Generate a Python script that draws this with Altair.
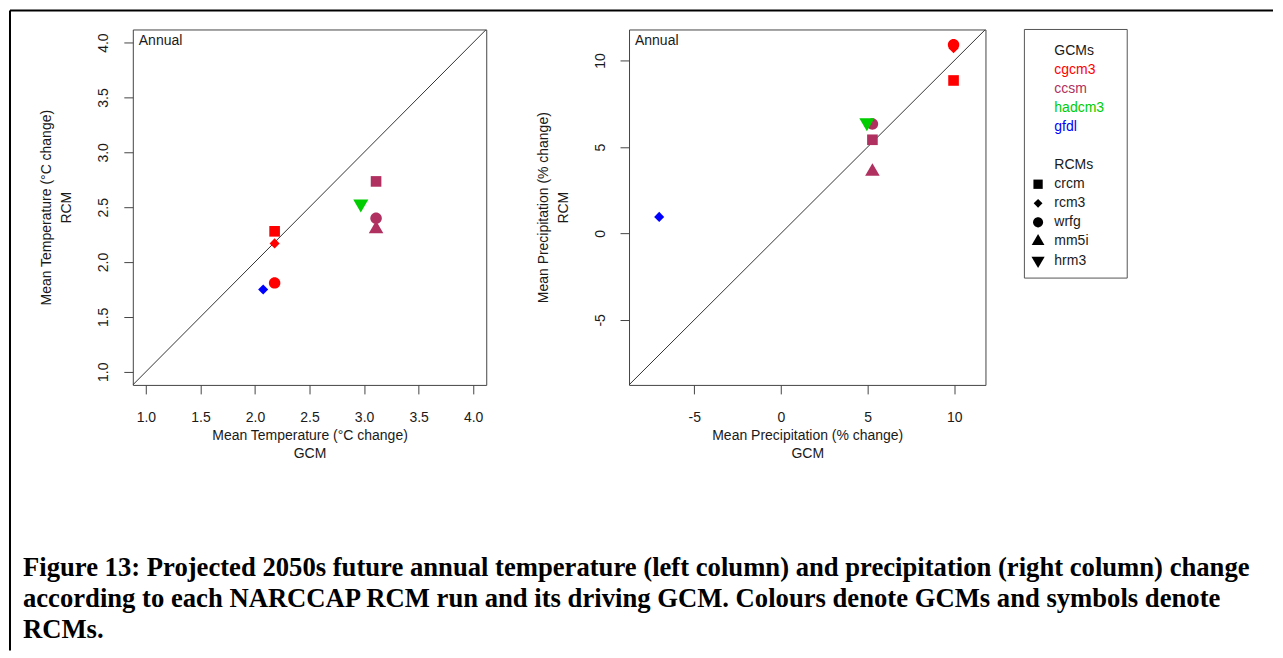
import altair as alt
import pandas as pd

# ---- data ----
gcm_names = ["cgcm3", "ccsm", "hadcm3", "gfdl"]
gcm_colors = ["#FF0000", "#B03060", "#00CD00", "#0000FF"]
rcm_names = ["crcm", "rcm3", "wrfg", "mm5i", "hrm3"]

run_gcm = ["cgcm3", "cgcm3", "cgcm3", "ccsm", "ccsm", "ccsm", "hadcm3", "gfdl"]
run_rcm = ["crcm", "rcm3", "wrfg", "crcm", "wrfg", "mm5i", "hrm3", "rcm3"]
temp_gcm = [2.18, 2.18, 2.18, 3.11, 3.11, 3.11, 2.97, 2.075]
temp_rcm = [2.28, 2.17, 1.81, 2.735, 2.40, 2.30, 2.53, 1.75]
prec_gcm = [9.96, 9.96, 9.96, 5.28, 5.28, 5.28, 4.96, -7.02]
prec_rcm = [8.85, 10.72, 10.92, 5.42, 6.33, 3.58, 6.42, 0.96]

temp_lim = [0.88, 4.12]
prec_lim = [-8.76, 11.8]
temp_ticks = [1.0, 1.5, 2.0, 2.5, 3.0, 3.5, 4.0]
prec_ticks = [-5, 0, 5, 10]

temp_title_x = ["Mean Temperature (°C change)", "GCM"]
temp_title_y = ["Mean Temperature (°C change)", "RCM"]
prec_title_x = ["Mean Precipitation (% change)", "GCM"]
prec_title_y = ["Mean Precipitation (% change)", "RCM"]
panel_label = "Annual"

caption_lines = [
    "Figure 13: Projected 2050s future annual temperature (left column) and precipitation (right column) change",
    "according to each NARCCAP RCM run and its driving GCM. Colours denote GCMs and symbols denote",
    "RCMs.",
]

# ---- symbol paths (R-like pch 15, 18, 16, 17, 25-filled), unit box scaled by size ----
rcm_shapes = [
    "M-0.76,-0.76H0.76V0.76H-0.76Z",
    "M0,-0.72L0.72,0L0,0.72L-0.72,0Z",
    "M0.82,0A0.82,0.82,0,1,1,-0.82,0A0.82,0.82,0,1,1,0.82,0Z",
    "M0,-1.2L1.04,0.6L-1.04,0.6Z",
    "M0,1.24L1.08,-0.62L-1.08,-0.62Z",
]
POINT_SIZE = 196
LEGEND_SIZE = 150

runs = pd.DataFrame({
    "gcm": run_gcm, "rcm": run_rcm,
    "tg": temp_gcm, "tr": temp_rcm,
    "pg": prec_gcm, "pr": prec_rcm,
})

SANS = "Liberation Sans"
TXT = "#1a1a1a"
W1, W2, H = 354, 357, 356

color_scale = alt.Scale(domain=gcm_names, range=gcm_colors)
shape_scale = alt.Scale(domain=rcm_names, range=rcm_shapes)


def x_axis(title, ticks, expr, width):
    return alt.Axis(
        title=title, values=ticks, labelExpr=expr, grid=False, domain=False,
        tickSize=9, tickColor="#444", labelPadding=28, labelBaseline="alphabetic",
        labelFont=SANS, labelFontSize=14, labelColor=TXT,
        titleFont=SANS, titleFontSize=14, titleFontWeight="normal", titleColor=TXT,
        titleX=width / 2, titleY=55, titleAlign="center", titleBaseline="alphabetic",
        titleLineHeight=18, labelFlush=False, labelOverlap=False,
    )


def y_axis(title, ticks, expr):
    return alt.Axis(
        title=title, values=ticks, labelExpr=expr, grid=False, domain=False,
        tickSize=9, tickColor="#444", labelPadding=16, labelAngle=270,
        labelAlign="center", labelBaseline="alphabetic",
        labelFont=SANS, labelFontSize=14, labelColor=TXT,
        titleFont=SANS, titleFontSize=14, titleFontWeight="normal", titleColor=TXT,
        titleAngle=270, titleX=-82, titleY=H / 2, titleAlign="center",
        titleBaseline="alphabetic", titleLineHeight=20,
        labelFlush=False, labelOverlap=False,
    )


def panel(xf, yf, lim, ticks, expr, tx, ty, width):
    xs = alt.Scale(domain=lim, nice=False, zero=False)
    ys = alt.Scale(domain=lim, nice=False, zero=False)
    diag_df = pd.DataFrame({"a": lim, "b": lim})
    diag = alt.Chart(diag_df).mark_line(color="#333", strokeWidth=1, clip=True).encode(
        x=alt.X("a:Q", scale=xs, axis=x_axis(tx, ticks, expr, width)),
        y=alt.Y("b:Q", scale=ys, axis=y_axis(ty, ticks, expr)),
    )
    pts = alt.Chart(runs).mark_point(
        filled=True, opacity=1, strokeWidth=0, size=POINT_SIZE
    ).encode(
        x=alt.X(f"{xf}:Q", scale=xs),
        y=alt.Y(f"{yf}:Q", scale=ys),
        color=alt.Color("gcm:N", scale=color_scale, legend=None),
        shape=alt.Shape("rcm:N", scale=shape_scale, legend=None),
    )
    one = pd.DataFrame({"v": [0]})
    annual = alt.Chart(one).mark_text(
        align="left", baseline="middle", font=SANS, fontSize=14, color=TXT
    ).encode(x=alt.value(6), y=alt.value(12), text=alt.value(panel_label))
    return alt.layer(diag, pts, annual).properties(width=width, height=H)


one = pd.DataFrame({"v": [0]})

left_core = panel("tg", "tr", temp_lim, temp_ticks, "format(datum.value, '.1f')",
                  temp_title_x, temp_title_y, W1)
caption = alt.Chart(one).mark_text(
    align="left", baseline="alphabetic", font="Liberation Serif", fontWeight="bold",
    fontSize=26.7, lineHeight=31, color="black"
).encode(x=alt.value(-110), y=alt.value(547), text=alt.value(caption_lines))
border_top = alt.Chart(one).mark_rule(color="black", strokeWidth=2).encode(
    x=alt.value(-123), x2=alt.value(1142), y=alt.value(-19))
border_left = alt.Chart(one).mark_rule(color="black", strokeWidth=2).encode(
    x=alt.value(-123), y=alt.value(-19), y2=alt.value(622))
left = alt.layer(left_core, caption, border_top, border_left)

right_core = panel("pg", "pr", prec_lim, prec_ticks, "'' + datum.value",
                   prec_title_x, prec_title_y, W2)

# ---- manual legend (inside right panel, beyond its plot area) ----
rows = []
k = 0
rows.append({"row": k, "label": "GCMs", "kind": "head"}); k += 1
for g in gcm_names:
    rows.append({"row": k, "label": g, "kind": "gcm", "gcm": g}); k += 1
k += 1
rows.append({"row": k, "label": "RCMs", "kind": "head"}); k += 1
for r in rcm_names:
    rows.append({"row": k, "label": r, "kind": "rcm", "rcm": r}); k += 1
leg = pd.DataFrame(rows)

ly = alt.Y("row:Q", scale=alt.Scale(domain=[0, 11], range=[21.3, 231.4]), axis=None)
box = alt.Chart(one).mark_rect(fillOpacity=0, stroke="#555", strokeWidth=1).encode(
    x=alt.value(396), x2=alt.value(499), y=alt.value(0), y2=alt.value(249))
heads = alt.Chart(leg).transform_filter("datum.kind == 'head'").mark_text(
    align="left", baseline="middle", font=SANS, fontSize=14, color=TXT
).encode(x=alt.value(426), y=ly, text="label:N")
gtext = alt.Chart(leg).transform_filter("datum.kind == 'gcm'").mark_text(
    align="left", baseline="middle", font=SANS, fontSize=14
).encode(x=alt.value(426), y=ly, text="label:N",
         color=alt.Color("gcm:N", scale=color_scale, legend=None))
rtext = alt.Chart(leg).transform_filter("datum.kind == 'rcm'").mark_text(
    align="left", baseline="middle", font=SANS, fontSize=14, color=TXT
).encode(x=alt.value(426), y=ly, text="label:N")
rsym = alt.Chart(leg).transform_filter("datum.kind == 'rcm'").mark_point(
    filled=True, opacity=1, strokeWidth=0, color="black", size=LEGEND_SIZE
).encode(x=alt.value(409.7), y=ly,
         shape=alt.Shape("rcm:N", scale=shape_scale, legend=None))
legend_layer = alt.layer(box, heads, gtext, rtext, rsym)

right = alt.layer(right_core, legend_layer).resolve_scale(y="independent")

chart = alt.hconcat(left, right, spacing=143, bounds="flush").properties(
    padding=0, background="white"
).configure_view(stroke="#444", strokeWidth=1)

chart.save("out.html", embed_options={"renderer": "svg", "actions": False})
